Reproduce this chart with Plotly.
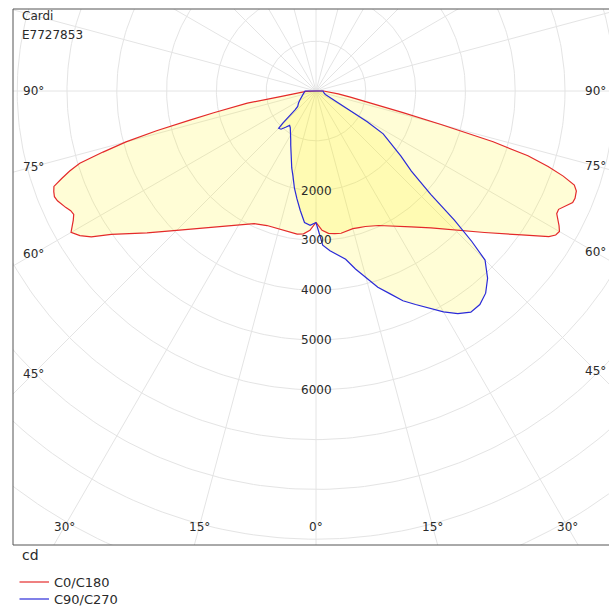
import numpy as np
import plotly.graph_objects as go

# ---------------- data ----------------
header_lines = ["Cardi", "E7727853"]
unit_label = "cd"
series_names = ["C0/C180", "C90/C270"]
series_colors = ["#e42a2a", "#2a2ad8"]

# C0 plane (right half of the red curve): gamma in degrees, intensity in cd
gamma_c0 = [0, 2.5, 5, 7.5, 10, 12.5, 15, 17.5, 20, 25, 30, 35, 40, 45, 50, 55, 57, 58, 59, 60,
            61, 62, 63, 64, 65, 66.5, 67.5, 69, 70, 71, 72, 73, 74, 75, 76, 78, 80, 82.5, 85, 87.5, 90, 180]
cd_c0 = [2640, 2800, 2870, 2890, 2900, 2880, 2860, 2875, 2895, 2980, 3130, 3330, 3590, 3950, 4420, 5040, 5360, 5515, 5615, 5645,
         5580, 5500, 5425, 5420, 5490, 5620, 5630, 5600, 5520, 5250, 4900, 4450, 3700, 2600, 1800, 1100, 700, 450, 300, 200, 150, 0]

# C180 plane (left half of the red curve)
gamma_c180 = [0, 2.5, 5, 7.5, 10, 12.5, 15, 17.5, 20, 25, 30, 35, 40, 45, 50, 55, 57, 58.5, 60,
              61, 62, 63, 64, 65, 66, 67, 68, 69, 70, 71, 72, 73, 74, 75, 76, 77, 78, 79, 80, 81, 82.5, 85, 87.5, 90, 180]
cd_c180 = [2640, 2800, 2880, 2900, 2890, 2875, 2870, 2870, 2875, 2940, 3120, 3330, 3600, 3960, 4430, 5020, 5380, 5560, 5680,
           5600, 5520, 5460, 5480, 5540, 5590, 5640, 5665, 5640, 5600, 5400, 5200, 4960, 4450, 3950, 3300, 2600, 2100, 1750, 1400, 750, 450, 300, 200, 150, 0]

# C90 plane (right half of the blue curve)
gamma_c90 = [0, 2.5, 5, 7.5, 10, 12.5, 15, 17.5, 20, 22.5, 25, 27.5, 30, 32.5, 35, 37.5, 40, 42.5, 45,
             46, 47, 48, 50, 52.5, 55, 57.5, 59, 60, 62.5, 65, 70, 75, 80, 85, 90, 180]
cd_c90 = [2640, 3100, 3220, 3320, 3430, 3660, 3880, 4130, 4330, 4560, 4730, 4920, 5120, 5300, 5420, 5405, 5300, 5100, 4800,
          4350, 3800, 3100, 2500, 2150, 1850, 1600, 1200, 750, 400, 280, 200, 170, 160, 150, 140, 0]

# C270 plane (left half of the blue curve)
gamma_c270 = [0, 2.5, 5, 7.5, 10, 12.5, 15, 17.5, 20, 25, 27.5, 30, 32.5, 35, 37.5, 40, 42.5, 45,
              46, 47, 48, 50, 55, 60, 65, 70, 80, 90, 180]
cd_c270 = [2640, 2700, 2650, 2420, 2200, 2000, 1780, 1620, 1450, 1200, 1100, 1010, 950, 900, 870, 950, 1040, 1060,
           920, 720, 560, 480, 430, 380, 340, 300, 250, 220, 0]

ring_labels = [2000, 3000, 4000, 5000, 6000]
side_angle_labels = [90, 75, 60, 45]
bottom_angle_labels = [-30, -15, 0, 15, 30]

# ---------------- geometry ----------------
W, H = 609, 606
ML, MR, MT, MB = 13, 0, 9, 61
CX, CY = 316, 91          # pixel position of the pole
K = 20.08                 # cd per pixel
FONT = "DejaVu Sans"
TXT = "#2a2a2a"
GRID = "#e4e4e4"

x_range = [-(CX - ML) * K, (W - MR - CX) * K]
y_range = [-(H - MB - CY) * K, (CY - MT) * K]


def polar_xy(gammas, cds, side):
    g = np.radians(np.asarray(gammas, float))
    r = np.asarray(cds, float)
    return side * r * np.sin(g), -r * np.cos(g)


def plane_outline(g_right, i_right, g_left, i_left):
    xr, yr = polar_xy(g_right, i_right, 1)
    xl, yl = polar_xy(g_left, i_left, -1)
    return np.concatenate([xr, xl[::-1]]), np.concatenate([yr, yl[::-1]])


def paper(px, py):
    return (px - ML) / (W - ML - MR), (H - MB - py) / (H - MT - MB)


fig = go.Figure()

# grid: concentric circles and 15 degree rays
gx, gy = [], []
t = np.linspace(0, 2 * np.pi, 361)
for r in range(1000, 13000, 1000):
    gx += list(r * np.cos(t)) + [None]
    gy += list(r * np.sin(t)) + [None]
for a in range(0, 360, 15):
    ar = np.radians(a)
    gx += [0, 13000 * np.sin(ar), None]
    gy += [0, -13000 * np.cos(ar), None]
fig.add_trace(go.Scatter(x=gx, y=gy, mode="lines", line=dict(color=GRID, width=1),
                         hoverinfo="skip", showlegend=False))

outlines = [plane_outline(gamma_c0, cd_c0, gamma_c180, cd_c180),
            plane_outline(gamma_c90, cd_c90, gamma_c270, cd_c270)]

for x, y in outlines:
    fig.add_trace(go.Scatter(x=x, y=y, mode="lines", fill="toself",
                             fillcolor="rgba(255,240,0,0.16)", line=dict(width=0),
                             hoverinfo="skip", showlegend=False))
for (x, y), name, col in zip(outlines, series_names, series_colors):
    fig.add_trace(go.Scatter(x=x, y=y, mode="lines", name=name,
                             line=dict(color=col, width=1.2), hoverinfo="skip", showlegend=False))

ann = []
# intensity labels along the 0 degree ray
for v in ring_labels:
    ann.append(dict(x=0, y=-v, text=str(v), showarrow=False, xanchor="center", yanchor="middle",
                    font=dict(family=FONT, size=12, color=TXT)))
# side angle labels where each ray meets the label column
left_col, right_col = (33.5 - CX) * K, (595.5 - CX) * K
for a in side_angle_labels:
    for xc in (left_col, right_col):
        yc = 0.0 if a == 90 else -abs(xc) / np.tan(np.radians(a))
        ann.append(dict(x=xc, y=yc, text=f"{a}°", showarrow=False, xanchor="center", yanchor="middle",
                        font=dict(family=FONT, size=12, color=TXT)))
# bottom angle labels
yb = -(527 - CY) * K
for a in bottom_angle_labels:
    ann.append(dict(x=-yb * np.tan(np.radians(a)), y=yb, text=f"{abs(a)}°", showarrow=False,
                    xanchor="center", yanchor="middle", font=dict(family=FONT, size=12, color=TXT)))

# header text
for i, line in enumerate(header_lines):
    px, py = paper(20, 16 + 19 * i)
    ann.append(dict(xref="paper", yref="paper", x=px, y=py, text=line, showarrow=False,
                    xanchor="left", yanchor="middle", font=dict(family=FONT, size=12, color=TXT)))
# unit label
px, py = paper(20, 555)
ann.append(dict(xref="paper", yref="paper", x=px, y=py, text=unit_label, showarrow=False,
                xanchor="left", yanchor="middle", font=dict(family=FONT, size=14, color=TXT)))

shapes = []
# legend
for i, (name, col) in enumerate(zip(series_names, series_colors)):
    yy = 582 + 17 * i
    x0, y0 = paper(19.5, yy)
    x1, _ = paper(49, yy)
    shapes.append(dict(type="line", xref="paper", yref="paper", x0=x0, x1=x1, y0=y0, y1=y0,
                       line=dict(color=col, width=1.2)))
    tx, _ = paper(52, yy)
    ann.append(dict(xref="paper", yref="paper", x=tx, y=y0, text=name, showarrow=False,
                    xanchor="left", yanchor="middle", font=dict(family=FONT, size=13, color=TXT)))

# frame (left, top, bottom)
frame = dict(color="#555555", width=1)
shapes += [dict(type="line", xref="paper", yref="paper", x0=0, x1=0, y0=0, y1=1, line=frame),
           dict(type="line", xref="paper", yref="paper", x0=0, x1=1, y0=1, y1=1, line=frame),
           dict(type="line", xref="paper", yref="paper", x0=0, x1=1, y0=0, y1=0, line=frame)]

fig.update_layout(
    width=W, height=H,
    margin=dict(l=ML, r=MR, t=MT, b=MB, pad=0),
    paper_bgcolor="white", plot_bgcolor="white",
    xaxis=dict(range=x_range, visible=False, fixedrange=True),
    yaxis=dict(range=y_range, visible=False, fixedrange=True),
    showlegend=False, hovermode=False,
    annotations=ann, shapes=shapes,
)

fig.write_html("out.html", config={"displayModeBar": False},
               post_script="document.body.style.margin='0';document.body.style.overflow='hidden';")
